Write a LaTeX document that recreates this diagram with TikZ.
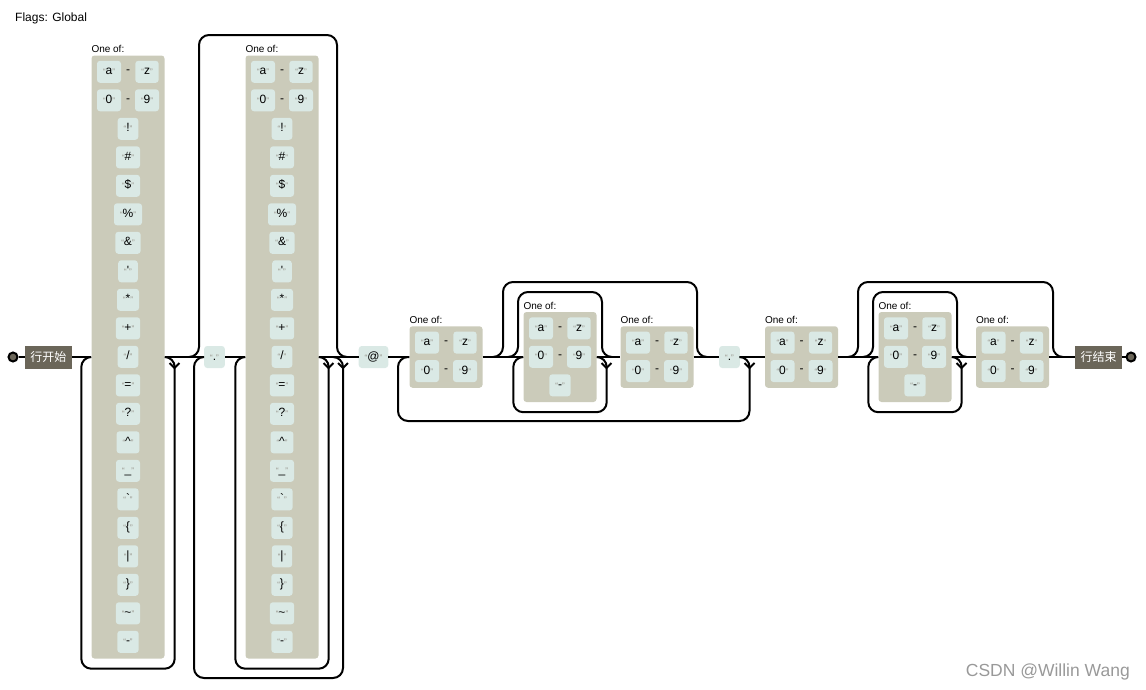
\documentclass[tikz,border=0pt]{standalone}
\usepackage{fontspec}
\setmainfont{Liberation Sans}
\newfontfamily\cjk{Noto Sans CJK SC}
\usetikzlibrary{calc}

\definecolor{anchorfill}{HTML}{6B6659}
\definecolor{setfill}{HTML}{CBCBBA}
\definecolor{litfill}{HTML}{DAE9E5}
\definecolor{quotegray}{HTML}{908C83}

\newcommand{\lit}[1]{{\color{quotegray}\fontsize{8}{8}\selectfont“}#1{\color{quotegray}\fontsize{8}{8}\selectfont”}}

\begin{document}
\begin{tikzpicture}[x=1pt,y=-1pt,
  rail/.style={line width=2pt,rounded corners=10pt},
  lit/.style={fill=litfill,rounded corners=3pt,minimum height=22pt,inner xsep=6pt,inner ysep=0pt,
    text height=8.5pt,text depth=2.5pt,font=\fontsize{12}{12}\selectfont},
  charset/.style={fill=setfill,rounded corners=3pt,minimum width=73pt,inner sep=0pt},
  oneof/.style={anchor=base west,inner sep=0pt,font=\fontsize{10}{10}\selectfont},
  anchorbox/.style={fill=anchorfill,text=white,minimum height=23pt,inner xsep=5.5pt,inner ysep=0pt,
    font=\cjk\fontsize{12}{12}\selectfont},
  endpt/.style={circle,draw,line width=2pt,fill=anchorfill,minimum size=9pt,inner sep=0pt}]
  \useasboundingbox (0,0) rectangle (1146,689);

  \node[anchor=base west,inner sep=0pt,font=\fontsize{12}{12}\selectfont] (flags) at (15,21) {Flags: Global};

  % start and end of line
  \node[endpt] (startc) at (13,357) {};
  \node[anchorbox] (begin) at (48.5,357) {行开始};
  \node[anchorbox] (endl) at (1098.5,357) {行结束};
  \node[endpt] (endc) at (1131,357) {};

  % character sets
  \foreach \s/\x/\n in {cs1/128/21,cs2/282/21,csA/446/2,csB/560/3,csC/657/2,csD/801.5/2,csE/915/3,csF/1012.5/2} {
    \node[charset,minimum height=\n*28.5+4.5] (\s) at (\x,357) {};
    \node[oneof] (\s-label) at ($(\s.north west)+(0,-2.5)$) {One of:};
    \node[lit] (\s-a) at ($(\s.north)+(-19,16.5)$) {\lit{a}};
    \node[font=\fontsize{12}{12}\selectfont] (\s-to1) at ($(\s.north)+(0,16.5)$) {-};
    \node[lit] (\s-z) at ($(\s.north)+(19,16.5)$) {\lit{z}};
    \node[lit] (\s-0) at ($(\s.north)+(-19,45)$) {\lit{0}};
    \node[font=\fontsize{12}{12}\selectfont] (\s-to2) at ($(\s.north)+(0,45)$) {-};
    \node[lit] (\s-9) at ($(\s.north)+(19,45)$) {\lit{9}};
  }
  \foreach \s in {csB,csE}
    \node[lit] (\s-dash) at ($(\s.north)+(0,73.5)$) {\lit{-}};
  \foreach \s in {cs1,cs2}
    \foreach \c [count=\i from 3] in {!,\#,\$,\%,\&,\textquotesingle,*,+,/,=,?,\textasciicircum,\_,\textasciigrave,\{,|,\},\textasciitilde,-}
      \node[lit] (\s-\i) at ($(\s.north)+(0,{16.5+28.5*(\i-1)})$) {\lit{\c}};

  % literals
  \node[lit] (dot1) at (214.5,357) {\lit{.}};
  \node[lit] (at) at (373.5,357) {\lit{@}};
  \node[lit] (dot2) at (729.5,357) {\lit{.}};

  % main line
  \draw[rail] (startc) -- (begin) -- (cs1) -- (dot1) -- (cs2) -- (at) -- (csA) -- (csB)
    -- (csC) -- (dot2) -- (csD) -- (csE) -- (csF) -- (endl) -- (endc);

  % skips
  \foreach \a/\b/\t [count=\i] in {189/347/35,493/707/282,508/612/292,848/1063/282,863/967/292} {
    \coordinate (skip\i in) at (\a,357);
    \coordinate (skip\i out) at (\b,357);
    \draw[rail] (skip\i in) -| (\a+10,\t) -| (\b-10,357) -- (skip\i out);
  }

  % loops
  \foreach \s in {cs1,cs2,csB,csE}
    \draw[rail] (\s.east) -| ($(\s.south east)+(10,10)$) -| ($(\s.west)+(-10,0)$) -- (\s.west);
  \coordinate (g2back) at (333,357);
  \draw[rail] (g2back) -| (343,678) -| (194,357) -- (dot1.west);
  \draw[rail] (dot2.east) -| (749.5,421) -| (398,357) -- (csA.west);
  \foreach \x in {174.5,328.5,343,606.5,749.5,961.5}
    \draw[line width=2pt] (\x-5,363) -- (\x,368) -- (\x+5,363);

  \node[anchor=base east,inner sep=0pt,text=black!40,font=\fontsize{17.5}{17.5}\selectfont] (mark) at (1130,676) {CSDN @Willin Wang};
\end{tikzpicture}
\end{document}
